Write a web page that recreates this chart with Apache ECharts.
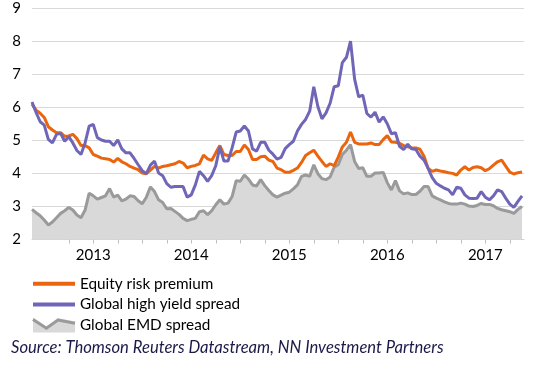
<!DOCTYPE html>
<html><head><meta charset="utf-8">
<script src="https://cdn.jsdelivr.net/npm/echarts@6/dist/echarts.min.js"></script>
<style>html,body{margin:0;padding:0;background:#fff}#c{width:555px;height:369px}</style>
</head><body><div id="c"></div>
<script>
// Half-monthly observations, mid-May 2012 to mid-May 2017 (x in decimal years)
const startYear = 2012.375;
const stepYear = 1 / 24;

const equityRiskPremium = [
  6.09,5.91,5.82,5.69,5.41,5.31,5.23,5.23,5.12,5.13,5.18,5.05,4.84,4.84,4.77,4.57,4.52,4.46,4.44,4.42,
  4.34,4.45,4.35,4.29,4.21,4.16,4.11,4.01,3.99,4.10,4.21,4.16,4.21,4.23,4.26,4.29,4.36,4.31,4.17,4.21,
  4.24,4.29,4.55,4.44,4.39,4.62,4.84,4.57,4.54,4.54,4.66,4.66,4.86,4.72,4.42,4.42,4.50,4.52,4.40,4.36,
  4.16,4.11,4.03,4.03,4.09,4.16,4.33,4.54,4.62,4.70,4.52,4.36,4.21,4.29,4.23,4.49,4.80,4.94,5.25,4.94,
  4.89,4.89,4.89,4.92,4.87,4.87,5.02,5.14,4.95,4.94,4.91,4.84,4.80,4.77,4.77,4.73,4.52,4.15,4.06,4.10,
  4.07,4.05,4.02,4.00,3.95,4.10,4.20,4.10,4.18,4.20,4.17,4.08,4.14,4.25,4.35,4.40,4.22,4.04,3.98,4.02,
  4.04
];
const globalHighYieldSpread = [
  6.16,5.84,5.56,5.46,5.03,4.92,5.18,5.21,4.97,5.11,4.92,4.69,4.57,4.92,5.43,5.48,5.08,5.01,4.97,4.97,
  4.84,5.01,4.74,4.62,4.62,4.45,4.26,4.08,3.99,4.25,4.37,4.01,3.93,3.69,3.58,3.60,3.60,3.60,3.28,3.35,
  3.65,4.06,3.93,3.76,3.93,4.23,4.80,4.37,4.37,4.77,5.25,5.28,5.43,5.28,4.74,4.67,4.94,4.94,4.70,4.58,
  4.43,4.48,4.75,4.87,4.97,5.28,5.48,5.63,5.88,6.62,6.02,5.65,5.83,6.12,6.62,6.65,7.35,7.51,8.00,6.85,
  6.31,6.37,5.81,5.70,5.85,5.55,5.71,5.50,5.20,5.23,4.82,4.72,4.88,4.74,4.72,4.52,4.40,4.15,3.87,3.70,
  3.62,3.55,3.50,3.35,3.58,3.55,3.35,3.25,3.24,3.25,3.45,3.28,3.20,3.32,3.50,3.45,3.25,3.07,2.97,3.15,
  3.32
];
const globalEmdSpread = [
  2.91,2.81,2.72,2.59,2.44,2.53,2.66,2.79,2.87,2.97,2.89,2.74,2.66,2.89,3.40,3.32,3.22,3.27,3.32,3.54,
  3.28,3.34,3.17,3.22,3.32,3.30,3.17,3.08,3.28,3.59,3.45,3.20,3.12,2.93,2.94,2.85,2.76,2.64,2.57,2.61,
  2.64,2.84,2.87,2.75,2.87,3.05,3.20,3.07,3.10,3.30,3.78,3.76,3.95,3.83,3.65,3.62,3.81,3.63,3.48,3.35,
  3.28,3.34,3.40,3.43,3.53,3.65,3.91,3.95,3.91,4.26,3.99,3.84,3.81,3.89,4.19,4.26,4.57,4.70,4.87,4.36,
  4.15,4.17,3.91,3.91,4.01,4.01,4.03,3.72,3.50,3.78,3.47,3.38,3.41,3.36,3.36,3.46,3.60,3.60,3.32,3.25,
  3.20,3.14,3.09,3.07,3.07,3.10,3.07,3.01,3.00,3.03,3.09,3.06,3.06,3.02,2.94,2.90,2.87,2.84,2.79,2.91,
  3.00
];
const yearLabels = [2013, 2014, 2015, 2016, 2017];
const quarterTicks = [2012.75,2013,2013.25,2013.5,2013.75,2014,2014.25,2014.5,2014.75,2015,2015.25,2015.5,2015.75,
  2016,2016.25,2016.5,2016.75,2017,2017.25];
const seriesNames = ['Equity risk premium', 'Global high yield spread', 'Global EMD spread'];
const sourceText = 'Source: Thomson Reuters Datastream, NN Investment Partners';

const pair = arr => arr.map((v, i) => [startYear + i * stepYear, v]);

const ORANGE = '#EA650D', PURPLE = '#6F66B8', GREY_LINE = '#9a9a9a', GREY_FILL = '#d9d9d9';
const FONT = 'Lato';

const chart = echarts.init(document.getElementById('c'), null, {renderer: 'canvas'});
const legendText = {fontFamily: FONT, fontSize: 15.3, color: '#000', lineHeight: 16};
chart.setOption({
  animation: false,
  backgroundColor: '#fff',
  grid: {left: 32, right: 31, top: 8, bottom: 129.5, containLabel: false, outerBoundsMode: 'none'},
  xAxis: {
    type: 'value', min: 2012.375, max: 2017.395,
    splitLine: {show: false},
    axisLine: {show: true, lineStyle: {color: '#d0d0d0', width: 1}},
    axisTick: {show: true, customValues: quarterTicks, length: 4, lineStyle: {color: '#bfbfbf'}},
    axisLabel: {customValues: yearLabels, formatter: v => String(Math.round(v)),
      fontFamily: FONT, fontSize: 15, color: '#000', margin: 8}
  },
  yAxis: {
    type: 'value', min: 2, max: 9, interval: 1,
    axisLine: {show: false}, axisTick: {show: false},
    splitLine: {lineStyle: {color: '#d9d9d9', width: 1}},
    axisLabel: {fontFamily: FONT, fontSize: 15, color: '#000', margin: 11}
  },
  legend: [
    {data: [{name: seriesNames[0], icon: 'rect', itemStyle: {color: ORANGE, borderWidth: 0}}],
     left: 33, top: 275.7, padding: 0, itemWidth: 42, itemHeight: 4, selectedMode: false, textStyle: legendText},
    {data: [{name: seriesNames[1], icon: 'rect', itemStyle: {color: PURPLE, borderWidth: 0}}],
     left: 33, top: 296.5, padding: 0, itemWidth: 42, itemHeight: 4, selectedMode: false, textStyle: legendText},
    {data: [{name: seriesNames[2], icon: 'path://M0,0L13.4,9L25,0.5L42,4L42,15L0,15Z', itemStyle: {color: GREY_FILL, borderWidth: 0}}],
     left: 33, top: 317, padding: 0, itemWidth: 42, itemHeight: 15, selectedMode: false, textStyle: legendText}
  ],
  graphic: [
    {type: 'polyline', silent: true, z: 100,
     shape: {points: [[33, 319.5], [46.4, 328.3], [58, 320], [75, 323.3]]},
     style: {stroke: GREY_LINE, lineWidth: 3, fill: null}},
    {type: 'text', left: 11, top: 339, silent: true,
     style: {text: sourceText, font: 'italic 16.6px Lato', fill: '#1a1a4a'}}
  ],
  series: [
    {name: seriesNames[2], type: 'line', data: pair(globalEmdSpread), showSymbol: false, symbol: 'none',
     lineStyle: {color: GREY_LINE, width: 3}, itemStyle: {color: GREY_LINE},
     areaStyle: {color: GREY_FILL, opacity: 1, origin: 'start'}, z: 1},
    {name: seriesNames[0], type: 'line', data: pair(equityRiskPremium), showSymbol: false, symbol: 'none',
     lineStyle: {color: ORANGE, width: 3}, itemStyle: {color: ORANGE}, z: 2},
    {name: seriesNames[1], type: 'line', data: pair(globalHighYieldSpread), showSymbol: false, symbol: 'none',
     lineStyle: {color: PURPLE, width: 3}, itemStyle: {color: PURPLE}, z: 3}
  ]
});
</script></body></html>
